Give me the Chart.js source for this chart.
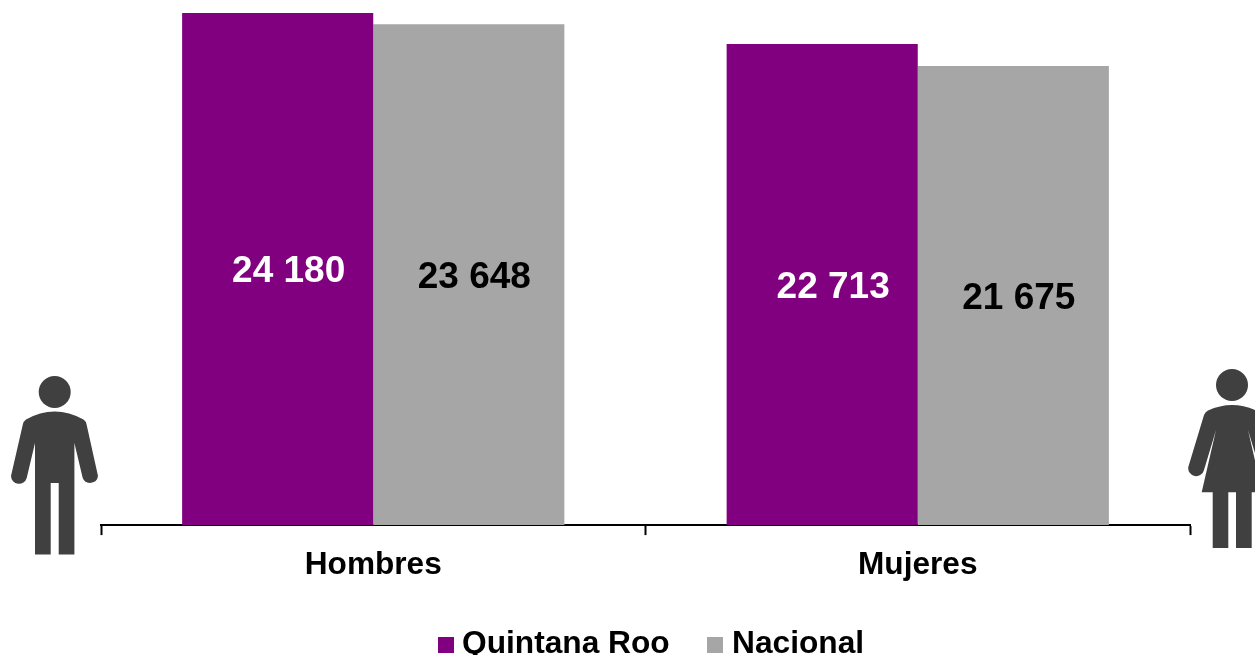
<!DOCTYPE html>
<html><head><meta charset="utf-8">
<style>html,body{margin:0;padding:0;background:#fff;overflow:hidden}#w{position:relative;width:1255px;height:655px}canvas{position:absolute;left:0;top:0}svg{position:absolute;left:0;top:0}</style>
<script src="https://cdn.jsdelivr.net/npm/chart.js@4"></script></head><body>
<div id="w"><canvas id="c" width="1255" height="655"></canvas>
<svg width="1255" height="655" fill="#404040">
<circle cx="54.7" cy="392" r="16"/>
<path d="M35 554.500V443L26.700 478A8 8 0 0 1 11 476L22.700 425Q23.500 421 26 419.500Q40 411.500 54.700 411.500Q69 411.500 83.500 419.500Q86 421 86.700 425L98 476A8 8 0 0 1 82.700 478L74.400 443V554.500H58.700V483H50.700V554.500Z"/>
<circle cx="1232" cy="385" r="16"/>
<path d="M1212.700 548V492.300H1201.700L1216 430L1204 470A8 8 0 0 1 1188.300 467L1204 415Q1205 412 1208 410.500Q1220 405 1232 405Q1244 405 1256 410.500Q1259 412 1260 415L1275.700 467A8 8 0 0 1 1260 470L1248 430L1262.300 492.300H1251.700V548H1236V492.300H1228.300V548Z"/>
</svg></div>
<script>
const categories = ["Hombres", "Mujeres"];
const quintanaRoo = [24180, 22713];
const nacional = [23648, 21675];
const seriesNames = ["Quintana Roo", "Nacional"];
const seriesColors = ["#800080", "#A6A6A6"];
const labelColors = ["#FFFFFF", "#000000"];
const FONT = '"Liberation Sans", Arial, sans-serif';
const fmt = v => String(v).replace(/\B(?=(\d{3})+$)/g, " ");
const labelShift = [11, 5.5];
const decor = {
  id: "decor",
  afterDatasetsDraw(chart) {
    const ctx = chart.ctx;
    ctx.save();
    ctx.font = "bold 37px " + FONT;
    ctx.textAlign = "center";
    ctx.textBaseline = "middle";
    chart.data.datasets.forEach((ds, i) => {
      chart.getDatasetMeta(i).data.forEach((bar, j) => {
        ctx.fillStyle = labelColors[i];
        ctx.fillText(fmt(ds.data[j]), bar.x + labelShift[i], (bar.y + bar.base) / 2 + 3);
      });
    });
    ctx.font = "bold 31.7px " + FONT;
    ctx.textAlign = "left";
    ctx.textBaseline = "alphabetic";
    const xs = [438, 707];
    chart.data.datasets.forEach((ds, i) => {
      ctx.fillStyle = ds.backgroundColor;
      ctx.fillRect(xs[i], 637, 16, 16);
      ctx.fillStyle = "#000";
      ctx.fillText(ds.label, xs[i] + (i ? 25 : 24), 653);
    });
    ctx.restore();
  }
};
new Chart(document.getElementById("c"), {
  type: "bar",
  data: {
    labels: categories,
    datasets: [
      { label: seriesNames[0], data: quintanaRoo, backgroundColor: seriesColors[0] },
      { label: seriesNames[1], data: nacional, backgroundColor: seriesColors[1] }
    ]
  },
  options: {
    responsive: false,
    animation: false,
    layout: { padding: { left: 101, right: 65, top: 0, bottom: 60 } },
    plugins: { legend: { display: false }, tooltip: { enabled: false } },
    datasets: { bar: { categoryPercentage: 0.702, barPercentage: 1 } },
    scales: {
      y: { display: false, min: 0, max: 24794 },
      x: {
        offset: true,
        border: { display: true, color: "#000", width: 2 },
        grid: { display: true, offset: true, drawOnChartArea: false, drawTicks: true, tickLength: 10, tickColor: "#000", tickWidth: 2 },
        ticks: { color: "#000", font: { family: FONT, size: 31.6, weight: "bold" }, padding: 11, maxRotation: 0 }
      }
    }
  },
  plugins: [decor]
});
</script></body></html>
